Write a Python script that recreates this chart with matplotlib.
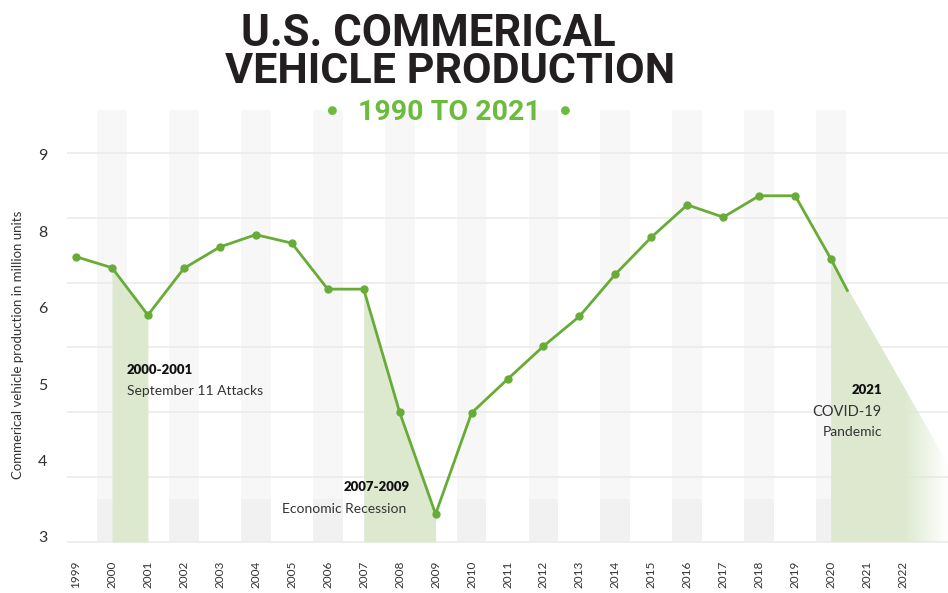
import numpy as np
import matplotlib
matplotlib.use("Agg")
import matplotlib.pyplot as plt
from matplotlib.patches import Polygon

# ---------------------------------------------------------
# DATA
# ---------------------------------------------------------
years = list(range(1999, 2021))
production = [7.40, 7.23, 6.50, 7.22, 7.55, 7.74, 7.61, 6.90, 6.90, 5.00, 3.43,
              4.99, 5.51, 6.02, 6.48, 7.13, 7.70, 8.20, 8.01, 8.34, 8.34, 7.36]

# line keeps going a bit after 2020
tail_x = [2020, 2020.45]
tail_y = [7.36, 6.88]

# shaded event periods
attacks_x = [2000, 2001]
recession_x = [2007, 2008, 2009]
covid_x = [2020, 2023.25]
covid_top = [7.36, 4.2]

xtick_years = list(range(1999, 2023))
band_years = list(range(2000, 2021, 2))
grid_values = list(range(3, 10))
ytick_labels = ["3", "4", "5", "6", "8", "9"]

GREEN = "#68ac38"
LIGHT_GREEN = "#dde9cf"
TEXT = "#333333"
FLOOR = 3.0
BAND_TOP = 9.66

plt.rcParams["font.family"] = ["Lato", "DejaVu Sans"]

fig = plt.figure(figsize=(9.48, 5.93), dpi=100)
ax = fig.add_axes([0.0707, 0.0759, 0.9293, 0.747])
ax.set_xlim(1998.75, 2023.25)
ax.set_ylim(2.907, 9.74)

# background bands (a touch darker near the floor)
ax.bar(band_years, BAND_TOP - FLOOR, bottom=FLOOR, width=0.83, color="#f7f7f7", zorder=0)
ax.bar(band_years, 0.66, bottom=FLOOR, width=0.83, color="#f1f1f1", zorder=0)

# gridlines
for g in grid_values:
    ax.axhline(g, color="#ededed", lw=1.3, zorder=1)

# event fills
prod = dict(zip(years, production))
ax.fill_between(attacks_x, [prod[y] for y in attacks_x], FLOOR,
                color=LIGHT_GREEN, lw=0, zorder=2)
ax.fill_between(recession_x, [prod[y] for y in recession_x], FLOOR,
                color=LIGHT_GREEN, lw=0, zorder=2)

# covid triangle, fading to the right
poly = Polygon([(covid_x[0], covid_top[0]), (covid_x[1], covid_top[1]),
                (covid_x[1], FLOOR), (covid_x[0], FLOOR)], closed=True,
               facecolor="none", edgecolor="none")
ax.add_patch(poly)
nx = 300
xs = np.linspace(covid_x[0], covid_x[1], nx)
alpha = np.clip(1 - (xs - 2022.05) / (covid_x[1] - 2022.05), 0.05, 1)
rgba = np.zeros((2, nx, 4))
rgba[..., :3] = matplotlib.colors.to_rgb(LIGHT_GREEN)
rgba[..., 3] = alpha
img = ax.imshow(rgba, extent=[covid_x[0], covid_x[1], FLOOR, covid_top[0]],
                aspect="auto", origin="lower", zorder=2, interpolation="bilinear")
img.set_clip_path(poly)
ax.set_xlim(1998.75, 2023.25)
ax.set_ylim(2.907, 9.74)

# main line
ax.plot(years, production, color=GREEN, lw=2.0, marker="o", ms=5, zorder=4)
ax.plot(tail_x, tail_y, color=GREEN, lw=2.0, zorder=4)

# axes styling
for s in ax.spines.values():
    s.set_visible(False)
ax.set_yticks([])
ax.set_xticks(xtick_years)
ax.set_xticklabels([str(y) for y in xtick_years], rotation=90, fontsize=8.5, color=TEXT)
ax.tick_params(axis="x", length=0, pad=9)

# y labels sit on their own evenly spaced scale
ax2 = fig.add_axes(ax.get_position())
ax2.patch.set_visible(False)
ax2.set_ylim(-0.144, 5.654)
ax2.set_yticks(range(len(ytick_labels)))
ax2.set_yticklabels(ytick_labels, fontsize=11.5, color=TEXT)
ax2.set_xticks([])
ax2.tick_params(axis="y", length=0, pad=14)
for s in ax2.spines.values():
    s.set_visible(False)

fig.text(0.019, 0.418, "Commerical vehicle production in million units",
         rotation=90, ha="center", va="center", fontsize=9.5, color=TEXT)

# annotations
ax.text(2000.42, 5.65, "2000-2001", fontsize=9.5, fontweight="heavy", color="#111111",
        ha="left", va="center", zorder=5)
ax.text(2000.42, 5.33, "September 11 Attacks", fontsize=10, color=TEXT,
        ha="left", va="center", zorder=5)
ax.text(2008.29, 3.85, "2007-2009", fontsize=9.5, fontweight="heavy", color="#111111",
        ha="right", va="center", zorder=5)
ax.text(2008.18, 3.51, "Economic Recession", fontsize=10, color=TEXT,
        ha="right", va="center", zorder=5)
ax.text(2021.41, 5.34, "2021", fontsize=9.5, fontweight="heavy", color="#111111",
        ha="right", va="center", zorder=5)
ax.text(2021.41, 5.00, "COVID-19", fontsize=10.5, color=TEXT,
        ha="right", va="center", zorder=5)
ax.text(2021.41, 4.69, "Pandemic", fontsize=10, color=TEXT,
        ha="right", va="center", zorder=5)

# title
title_font = ["Roboto", "DejaVu Sans"]
fig.text(0.452, 0.943, "U.S. COMMERICAL", family=title_font, fontweight="bold",
         fontsize=31.5, color="#231f20", ha="center", va="center")
fig.text(0.475, 0.880, "VEHICLE PRODUCTION", family=title_font, fontweight="bold",
         fontsize=31, color="#231f20", ha="center", va="center")
fig.text(0.474, 0.811, "1990 TO 2021", family=title_font, fontweight="bold",
         fontsize=20.5, color="#6cbb3c", ha="center", va="center")
fig.text(0.351, 0.812, "\u25CF", fontsize=13, color="#6cbb3c", ha="center", va="center")
fig.text(0.596, 0.812, "\u25CF", fontsize=13, color="#6cbb3c", ha="center", va="center")

fig.savefig("out.png", dpi=100)
